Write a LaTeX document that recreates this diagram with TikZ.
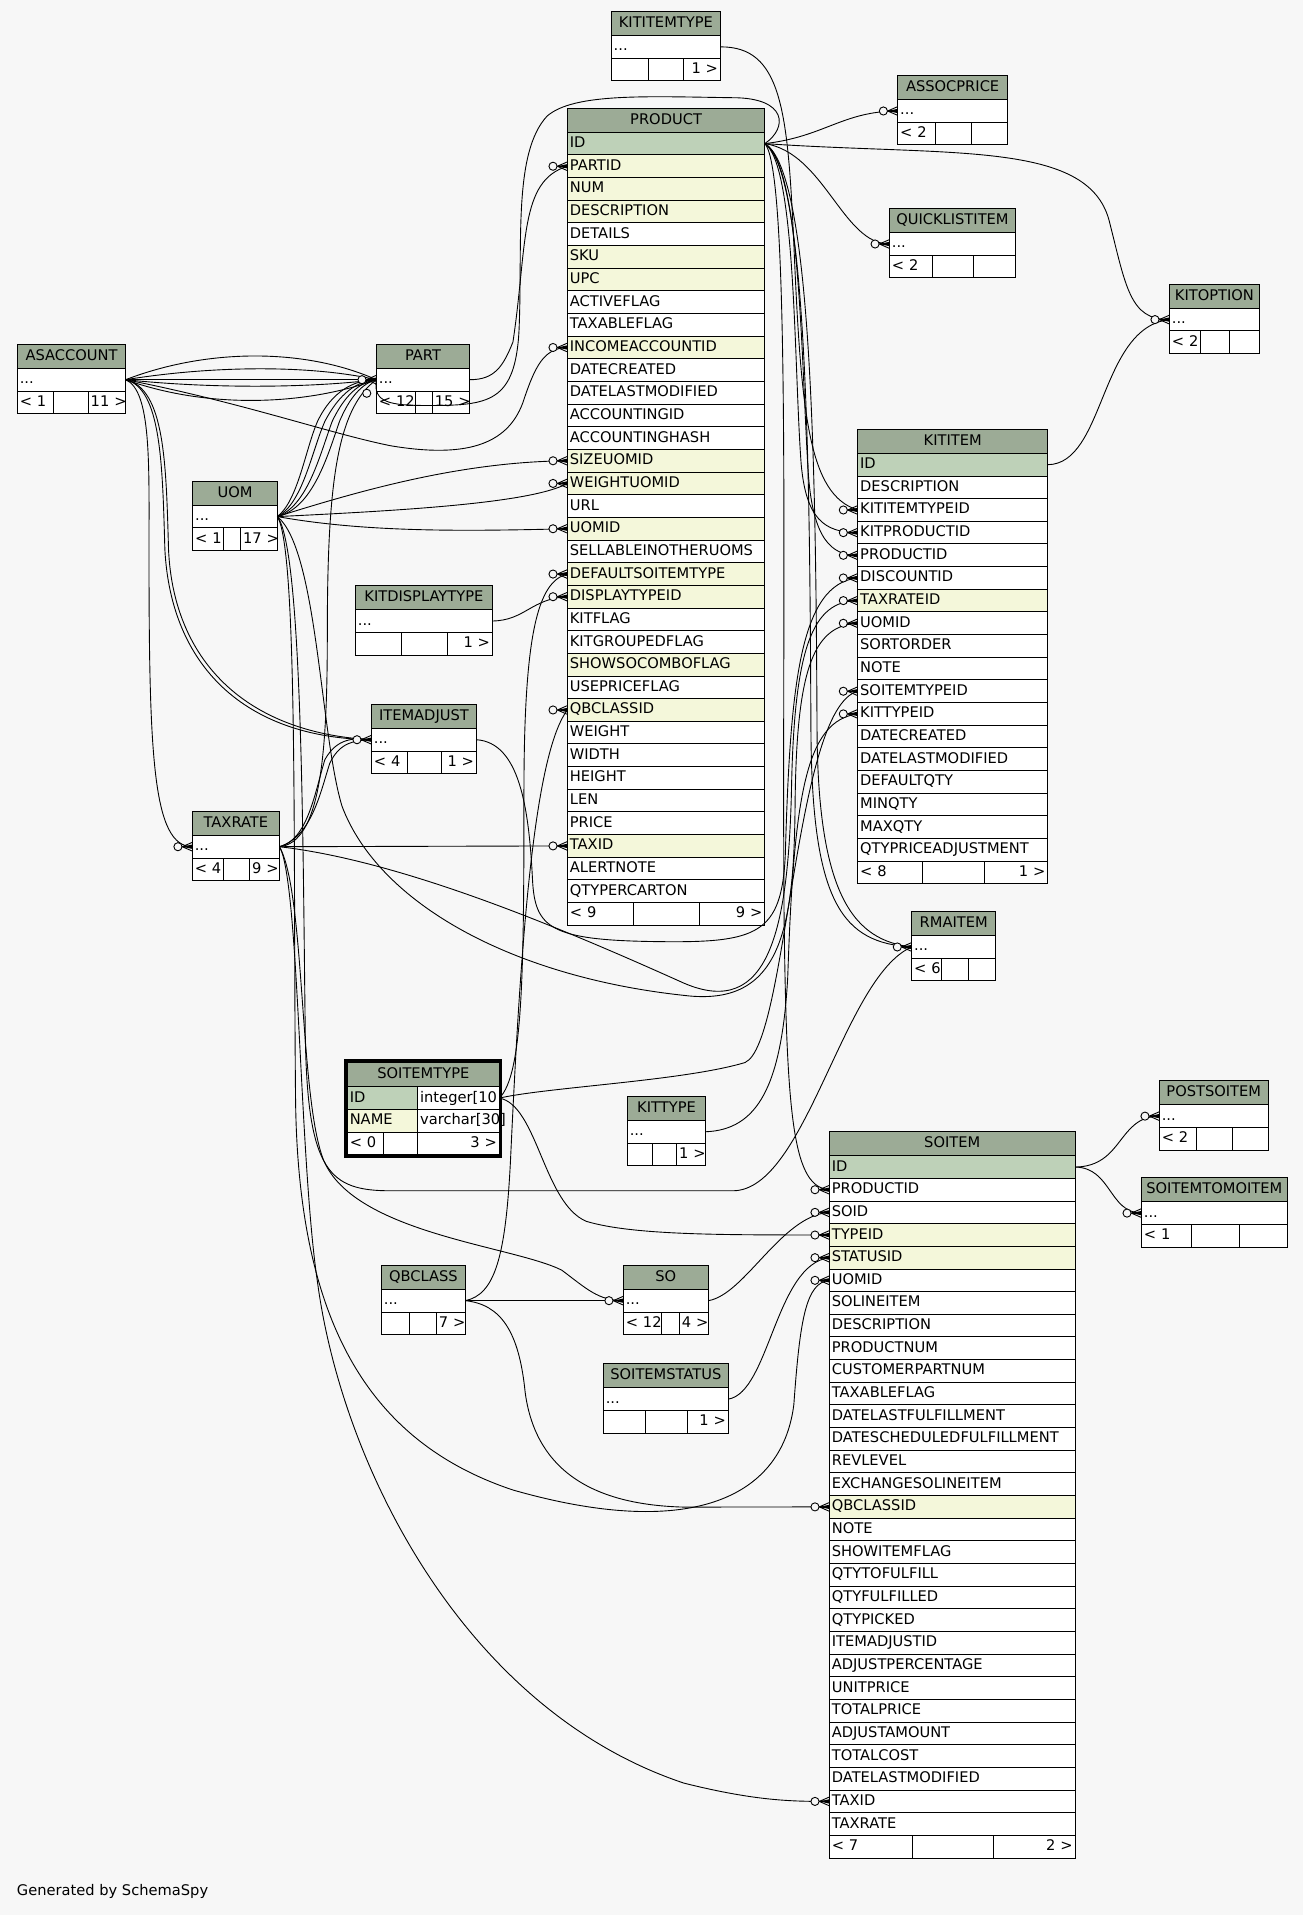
\documentclass[tikz,border=0pt]{standalone}
\usepackage{fontspec}
\setmainfont{DejaVu Sans}
\definecolor{bg}{HTML}{F7F7F7}
\definecolor{hd}{HTML}{9CAB96}
\definecolor{pk}{HTML}{BED1B8}
\definecolor{ix}{HTML}{F4F7DA}
\definecolor{wh}{HTML}{FFFFFF}
\tikzset{
 cell/.style={draw=black, line width=0.6pt, inner xsep=1.5pt, inner ysep=0pt, outer sep=0pt,
   font=\fontsize{9}{10}\selectfont, text height=6.8pt, text depth=1.9pt},
 edge/.style={draw=black, line width=0.55pt},
}
\newcommand\cellbox[8]{%
 \pgfmathsetmacro\cW{(#3-(#2))*0.75}%
 \pgfmathsetmacro\cT{\cW-3.0}%
 \pgfmathsetmacro\cX{(#2+#3)/2}%
 \pgfmathsetmacro\cY{#4+(#5)/2}%
 \node[cell, fill=#6, minimum width=\cW pt, minimum height=#5*0.75pt, text width=\cT pt, align=#7] (#1) at (\cX,\cY) {\mbox{#8}};}
\newcommand\smalltbl[9]{%
 \cellbox{#1-h}{#2}{#3}{#4}{19.6}{hd}{center}{#5}%
 \cellbox{#1-r}{#2}{#3}{#4+19.6}{18.55}{wh}{left}{...}%
 \cellbox{#1-fa}{#2}{#6}{#4+38.15}{18.55}{wh}{left}{#8}%
 \cellbox{#1-fb}{#6}{#7}{#4+38.15}{18.55}{wh}{left}{}%
 \cellbox{#1-fc}{#7}{#3}{#4+38.15}{18.55}{wh}{right}{#9}}
\newcommand\rowsat[5]{%
 \foreach \n/\f/\t [count=\i from 0] in {#5} {\cellbox{#1-\n}{#2}{#3}{#4+18.55*\i}{18.55}{\f}{left}{\t}}}
\newcommand\mk[1]{%
 \draw[edge] ([shift={(-8.3,0)}]#1.west) -- ([shift={(0,-3.6)}]#1.west)
   ([shift={(-8.3,0)}]#1.west) -- (#1.west)
   ([shift={(-8.3,0)}]#1.west) -- ([shift={(0,3.6)}]#1.west);
 \fill ([shift={(-8.3,0)}]#1.west) -- ([shift={(0,-1.8)}]#1.west) -- ([shift={(0,1.8)}]#1.west) -- cycle;
 \filldraw[edge, fill=bg] ([shift={(-11.8,0)}]#1.west) circle[radius=2.5pt];}
\begin{document}
\begin{tikzpicture}[x=0.75pt,y=-0.75pt]
\fill[bg] (0,0) rectangle (1067,1568);
\useasboundingbox (0,0) rectangle (1067,1568);

% ---------------- small tables
\smalltbl{kitt}{500.5}{589.9}{9.5}{KITITEMTYPE}{531}{560}{}{1 >}
\smalltbl{assoc}{735.1}{824.9}{62}{ASSOCPRICE}{766.2}{795.7}{< 2}{}
\smalltbl{quick}{728.3}{831.4}{170.9}{QUICKLISTITEM}{763.5}{797.3}{< 2}{}
\smalltbl{kitopt}{957.5}{1031.2}{232.8}{KITOPTION}{983}{1007}{< 2}{}
\smalltbl{asacc}{14.2}{102.9}{282}{ASACCOUNT}{43.7}{72.3}{< 1}{11 >}
\smalltbl{part}{308.2}{384.6}{282}{PART}{340.4}{354}{< 12}{15 >}
\smalltbl{uom}{157.8}{227.1}{394.1}{UOM}{182.9}{197.1}{< 1}{17 >}
\smalltbl{kdt}{291}{403.2}{479.6}{KITDISPLAYTYPE}{328.6}{366.3}{}{1 >}
\smalltbl{itemadj}{304.1}{390.1}{576.8}{ITEMADJUST}{333.6}{361.7}{< 4}{1 >}
\smalltbl{taxrate}{157.5}{228.8}{664.4}{TAXRATE}{183.2}{204.5}{< 4}{9 >}
\smalltbl{rma}{746.5}{815.3}{746.5}{RMAITEM}{770.8}{792.9}{< 6}{}
\smalltbl{kittype}{513.7}{577.8}{897.8}{KITTYPE}{534.4}{554.1}{}{1 >}
\smalltbl{post}{949.3}{1038.3}{885}{POSTSOITEM}{979.7}{1009.1}{< 2}{}
\smalltbl{s2m}{934.6}{1053.9}{964.4}{SOITEMTOMOITEM}{975.3}{1014.9}{< 1}{}
\smalltbl{qb}{312.3}{381}{1036.1}{QBCLASS}{335.2}{357.3}{}{7 >}
\smalltbl{so}{510.4}{580}{1036.1}{SO}{541.6}{556.3}{< 12}{4 >}
\smalltbl{sist}{494}{596.4}{1116.7}{SOITEMSTATUS}{528.5}{562.8}{}{1 >}

% ---------------- PRODUCT
\cellbox{prod-h}{464.6}{626.2}{88.7}{19.6}{hd}{center}{PRODUCT}
\rowsat{prod}{464.6}{626.2}{108.3}{id/pk/ID, partid/ix/PARTID, num/ix/NUM, description/ix/DESCRIPTION, details/wh/DETAILS, sku/ix/SKU, upc/ix/UPC, activeflag/wh/ACTIVEFLAG, taxableflag/wh/TAXABLEFLAG, incomeaccountid/ix/INCOMEACCOUNTID, datecreated/wh/DATECREATED, datelastmodified/wh/DATELASTMODIFIED, accountingid/wh/ACCOUNTINGID, accountinghash/wh/ACCOUNTINGHASH, sizeuomid/ix/SIZEUOMID, weightuomid/ix/WEIGHTUOMID, url/wh/URL, uomid/ix/UOMID, sellable/wh/SELLABLEINOTHERUOMS, defaultsoitemtype/ix/DEFAULTSOITEMTYPE, displaytypeid/ix/DISPLAYTYPEID, kitflag/wh/KITFLAG, kitgroupedflag/wh/KITGROUPEDFLAG, showsocomboflag/ix/SHOWSOCOMBOFLAG, usepriceflag/wh/USEPRICEFLAG, qbclassid/ix/QBCLASSID, weight/wh/WEIGHT, width/wh/WIDTH, height/wh/HEIGHT, len/wh/LEN, price/wh/PRICE, taxid/ix/TAXID, alertnote/wh/ALERTNOTE, qtypercarton/wh/QTYPERCARTON}
\cellbox{prod-fa}{464.6}{518.9}{739}{18.55}{wh}{left}{< 9}
\cellbox{prod-fb}{518.9}{572.7}{739}{18.55}{wh}{left}{}
\cellbox{prod-fc}{572.7}{626.2}{739}{18.55}{wh}{right}{9 >}

% ---------------- KITITEM
\cellbox{kititem-h}{702.3}{857.9}{351.6}{19.6}{hd}{center}{KITITEM}
\rowsat{kititem}{702.3}{857.9}{371.2}{id/pk/ID, description/wh/DESCRIPTION, kititemtypeid/wh/KITITEMTYPEID, kitproductid/wh/KITPRODUCTID, productid/wh/PRODUCTID, discountid/wh/DISCOUNTID, taxrateid/ix/TAXRATEID, uomid/wh/UOMID, sortorder/wh/SORTORDER, note/wh/NOTE, soitemtypeid/wh/SOITEMTYPEID, kittypeid/wh/KITTYPEID, datecreated/wh/DATECREATED, datelastmodified/wh/DATELASTMODIFIED, defaultqty/wh/DEFAULTQTY, minqty/wh/MINQTY, maxqty/wh/MAXQTY, qtypriceadjustment/wh/QTYPRICEADJUSTMENT}
\cellbox{kititem-fa}{702.3}{755}{705.1}{18.55}{wh}{left}{< 8}
\cellbox{kititem-fb}{755}{806}{705.1}{18.55}{wh}{left}{}
\cellbox{kititem-fc}{806}{857.9}{705.1}{18.55}{wh}{right}{1 >}

% ---------------- SOITEM
\cellbox{soitem-h}{679.1}{880.3}{926.7}{19.6}{hd}{center}{SOITEM}
\rowsat{soitem}{679.1}{880.3}{946.3}{id/pk/ID, productid/wh/PRODUCTID, soid/wh/SOID, typeid/ix/TYPEID, statusid/ix/STATUSID, uomid/wh/UOMID, solineitem/wh/SOLINEITEM, description/wh/DESCRIPTION, productnum/wh/PRODUCTNUM, customerpartnum/wh/CUSTOMERPARTNUM, taxableflag/wh/TAXABLEFLAG, datelastfulfillment/wh/DATELASTFULFILLMENT, datescheduled/wh/DATESCHEDULEDFULFILLMENT, revlevel/wh/REVLEVEL, exchange/wh/EXCHANGESOLINEITEM, qbclassid/ix/QBCLASSID, note/wh/NOTE, showitemflag/wh/SHOWITEMFLAG, qtytofulfill/wh/QTYTOFULFILL, qtyfulfilled/wh/QTYFULFILLED, qtypicked/wh/QTYPICKED, itemadjustid/wh/ITEMADJUSTID, adjustpercentage/wh/ADJUSTPERCENTAGE, unitprice/wh/UNITPRICE, totalprice/wh/TOTALPRICE, adjustamount/wh/ADJUSTAMOUNT, totalcost/wh/TOTALCOST, datelastmodified/wh/DATELASTMODIFIED, taxid/wh/TAXID, taxrate/wh/TAXRATE}
\cellbox{soitem-fa}{679.1}{747.4}{1502.8}{18.55}{wh}{left}{< 7}
\cellbox{soitem-fb}{747.4}{813.7}{1502.8}{18.55}{wh}{left}{}
\cellbox{soitem-fc}{813.7}{880.3}{1502.8}{18.55}{wh}{right}{2 >}

% ---------------- SOITEMTYPE (detailed)
\cellbox{sit-h}{284.4}{408.9}{870.2}{19.6}{hd}{center}{SOITEMTYPE}
\cellbox{sit-id}{284.4}{342}{889.8}{18.55}{pk}{left}{ID}
\cellbox{sit-idt}{342}{408.9}{889.8}{18.55}{wh}{left}{integer[10}
\cellbox{sit-nm}{284.4}{342}{908.35}{18.55}{ix}{left}{NAME}
\cellbox{sit-nmt}{342}{408.9}{908.35}{18.55}{wh}{left}{varchar[30]}
\cellbox{sit-fa}{284.4}{313.9}{926.9}{18.55}{wh}{left}{< 0}
\cellbox{sit-fb}{313.9}{342}{926.9}{18.55}{wh}{left}{}
\cellbox{sit-fc}{342}{408.9}{926.9}{18.55}{wh}{right}{3 >}
\draw[line width=1.8pt] (283.1,868.4) rectangle (410,946.6);

\node[anchor=west, inner sep=0pt, font=\fontsize{9}{10}\selectfont] (gen) at (13.6,1549) {Generated by SchemaSpy};

% ---------------- edges
% PRODUCT.ID children
\draw[edge] (prod-id.east) .. controls (675,112) and (690,91) .. (assoc-r.west);
\draw[edge] (prod-id.east) .. controls (675,125) and (690,200) .. (quick-r.west);
\draw[edge] (prod-id.east) .. controls (780,128) and (890,115) .. (908,180) .. controls (922,235) and (925,262) .. (kitopt-r.west);
\draw[edge] (prod-id.east) .. controls (652,135) and (650,300) .. (656,380) .. controls (660,425) and (675,436) .. (kititem-kitproductid.west);
\draw[edge] (prod-id.east) .. controls (656,135) and (656,300) .. (662,390) .. controls (666,440) and (680,455) .. (kititem-productid.west);
\draw[edge] (prod-id.east) .. controls (662,140) and (663,400) .. (664,600) .. controls (665,740) and (690,772) .. (rma-r.west);
\draw[edge] (prod-id.east) .. controls (666,140) and (668,400) .. (669,600) .. controls (670,735) and (700,770) .. (rma-r.west);
\draw[edge] (prod-id.east) .. controls (648,140) and (640,500) .. (642,750) .. controls (644,920) and (650,972) .. (soitem-productid.west);
\draw[edge] (prod-id.east) .. controls (645,105) and (645,80) .. (600,80) .. controls (530,79) and (470,76) .. (448,95) .. controls (420,125) and (428,200) .. (425,270) .. controls (422,330) and (400,332) .. (350,332) .. controls (320,332) and (305,330) .. (part-r.west);
% KITITEM / KITITEMTYPE
\draw[edge] (kititem-id.east) .. controls (905,380) and (900,268) .. (kitopt-r.west);
\draw[edge] (kitt-r.east) .. controls (640,38) and (645,90) .. (650,200) .. controls (656,340) and (662,405) .. (kititem-kititemtypeid.west);
% SOITEM.ID children
\draw[edge] (soitem-id.east) .. controls (920,955) and (915,914) .. (post-r.west);
\draw[edge] (soitem-id.east) .. controls (910,956) and (908,993) .. (s2m-r.west);
% PART -> PRODUCT.PARTID
\draw[edge] (part-r.east) .. controls (405,311) and (412,300) .. (420,280) .. controls (432,200) and (425,148) .. (prod-partid.west);
% ASACCOUNT children
\draw[edge] (asacc-r.east) .. controls (170,285) and (250,285) .. (part-r.west);
\draw[edge] (asacc-r.east) .. controls (170,300) and (250,298) .. (part-r.west);
\draw[edge] (asacc-r.east) -- (part-r.west);
\draw[edge] (asacc-r.east) .. controls (170,318) and (250,318) .. (part-r.west);
\draw[edge] (asacc-r.east) .. controls (170,335) and (250,332) .. (part-r.west);
\draw[edge] (asacc-r.east) .. controls (200,330) and (270,355) .. (320,365) .. controls (380,375) and (415,365) .. (428,330) .. controls (438,300) and (445,285) .. (prod-incomeaccountid.west);
\draw[edge] (asacc-r.east) .. controls (135,318) and (136,380) .. (138,450) .. controls (142,540) and (200,600) .. (itemadj-r.west);
\draw[edge] (asacc-r.east) .. controls (132,318) and (133,380) .. (135,450) .. controls (140,545) and (200,604) .. (itemadj-r.west);
\draw[edge] (asacc-r.east) .. controls (124,320) and (122,380) .. (122,450) .. controls (122,620) and (125,693) .. (taxrate-r.west);
% UOM children
\draw[edge] (uom-r.east) .. controls (248,412) and (255,370) .. (266,345) .. controls (278,322) and (292,312) .. (part-r.west);
\draw[edge] (uom-r.east) .. controls (252,414) and (262,372) .. (272,345) .. controls (282,324) and (294,313) .. (part-r.west);
\draw[edge] (uom-r.east) .. controls (256,416) and (268,374) .. (278,345) .. controls (286,326) and (296,314) .. (part-r.west);
\draw[edge] (uom-r.east) .. controls (244,410) and (250,368) .. (260,345) .. controls (272,320) and (290,311) .. (part-r.west);
\draw[edge] (uom-r.east) .. controls (300,400) and (380,378) .. (prod-sizeuomid.west);
\draw[edge] (uom-r.east) .. controls (330,418) and (435,412) .. (prod-weightuomid.west);
\draw[edge] (uom-r.east) .. controls (300,436) and (380,435) .. (prod-uomid.west);
\draw[edge] (uom-r.east) .. controls (260,450) and (262,600) .. (280,660) .. controls (310,740) and (420,800) .. (560,815) .. controls (640,825) and (650,760) .. (651,660) .. controls (652,550) and (665,512) .. (kititem-uomid.west);
\draw[edge] (uom-r.east) .. controls (248,450) and (248,700) .. (250,850) .. controls (252,960) and (270,975) .. (320,975) -- (600,975) .. controls (660,975) and (690,800) .. (rma-r.west);
\draw[edge] (uom-r.east) .. controls (244,450) and (240,700) .. (242,900) .. controls (244,1080) and (300,1180) .. (420,1220) .. controls (560,1260) and (640,1230) .. (650,1150) .. controls (655,1080) and (660,1050) .. (soitem-uomid.west);
% KITDISPLAYTYPE
\draw[edge] (kdt-r.east) .. controls (430,508) and (435,490) .. (prod-displaytypeid.west);
% SOITEMTYPE children
\draw[edge] (sit-idt.east) .. controls (428,880) and (429,800) .. (429,650) .. controls (429,520) and (440,476) .. (prod-defaultsoitemtype.west);
\draw[edge] (sit-idt.east) .. controls (450,890) and (560,885) .. (610,870) .. controls (645,855) and (650,580) .. (kititem-soitemtypeid.west);
\draw[edge] (sit-idt.east) .. controls (440,905) and (445,985) .. (480,1000) .. controls (520,1012) and (600,1011) .. (soitem-typeid.west);
% QBCLASS children
\draw[edge] (qb-r.east) .. controls (405,1060) and (414,1030) .. (418,950) .. controls (425,800) and (435,620) .. (prod-qbclassid.west);
\draw[edge] (qb-r.east) -- (so-r.west);
\draw[edge] (qb-r.east) .. controls (410,1068) and (425,1090) .. (430,1140) .. controls (438,1200) and (480,1232) .. (560,1234) -- (soitem-qbclassid.west);
% TAXRATE children
\draw[edge] (taxrate-r.east) -- (prod-taxid.west);
\draw[edge] (taxrate-r.east) .. controls (255,685) and (262,650) .. (270,625) .. controls (278,608) and (290,606) .. (itemadj-r.west);
\draw[edge] (taxrate-r.east) .. controls (252,688) and (258,648) .. (266,622) .. controls (276,604) and (290,604) .. (itemadj-r.west);
\draw[edge] (taxrate-r.east) .. controls (262,690) and (268,620) .. (268,520) .. controls (268,400) and (275,335) .. (part-r.west);
\draw[edge] (taxrate-r.east) .. controls (330,705) and (460,760) .. (560,805) .. controls (630,835) and (645,760) .. (648,650) .. controls (650,530) and (665,492) .. (kititem-taxrateid.west);
\draw[edge] (taxrate-r.east) .. controls (245,720) and (245,950) .. (260,1050) .. controls (280,1200) and (380,1400) .. (560,1460) .. controls (620,1475) and (650,1475) .. (soitem-taxid.west);
\draw[edge] (taxrate-r.east) .. controls (250,730) and (245,900) .. (265,950) .. controls (290,1010) and (420,1020) .. (460,1040) .. controls (480,1055) and (490,1065) .. (so-r.west);
% ITEMADJUST -> KITITEM.DISCOUNTID
\draw[edge] (itemadj-r.east) .. controls (425,608) and (433,660) .. (436,720) .. controls (438,760) and (450,770) .. (540,771) .. controls (620,772) and (640,765) .. (643,700) .. controls (647,560) and (655,478) .. (kititem-discountid.west);
% KITTYPE
\draw[edge] (kittype-r.east) .. controls (620,925) and (640,890) .. (645,800) .. controls (650,650) and (660,590) .. (kititem-kittypeid.west);
% SO, SOITEMSTATUS
\draw[edge] (so-r.east) .. controls (610,1060) and (640,995) .. (soitem-soid.west);
\draw[edge] (sist-r.east) .. controls (630,1140) and (635,1035) .. (soitem-statusid.west);

% ---------------- markers
\foreach \m in {assoc-r, quick-r, kitopt-r, kititem-kititemtypeid, kititem-kitproductid, kititem-productid, kititem-discountid, kititem-taxrateid, kititem-uomid, kititem-soitemtypeid, kititem-kittypeid, rma-r, soitem-productid, soitem-soid, soitem-typeid, soitem-statusid, soitem-uomid, soitem-qbclassid, soitem-taxid, post-r, s2m-r, prod-partid, prod-incomeaccountid, prod-sizeuomid, prod-weightuomid, prod-uomid, prod-defaultsoitemtype, prod-displaytypeid, prod-qbclassid, prod-taxid, part-r, itemadj-r, taxrate-r, so-r} {\mk{\m}}
\filldraw[edge, fill=bg] (300.3,322) circle[radius=2.5pt];
\end{tikzpicture}
\end{document}
